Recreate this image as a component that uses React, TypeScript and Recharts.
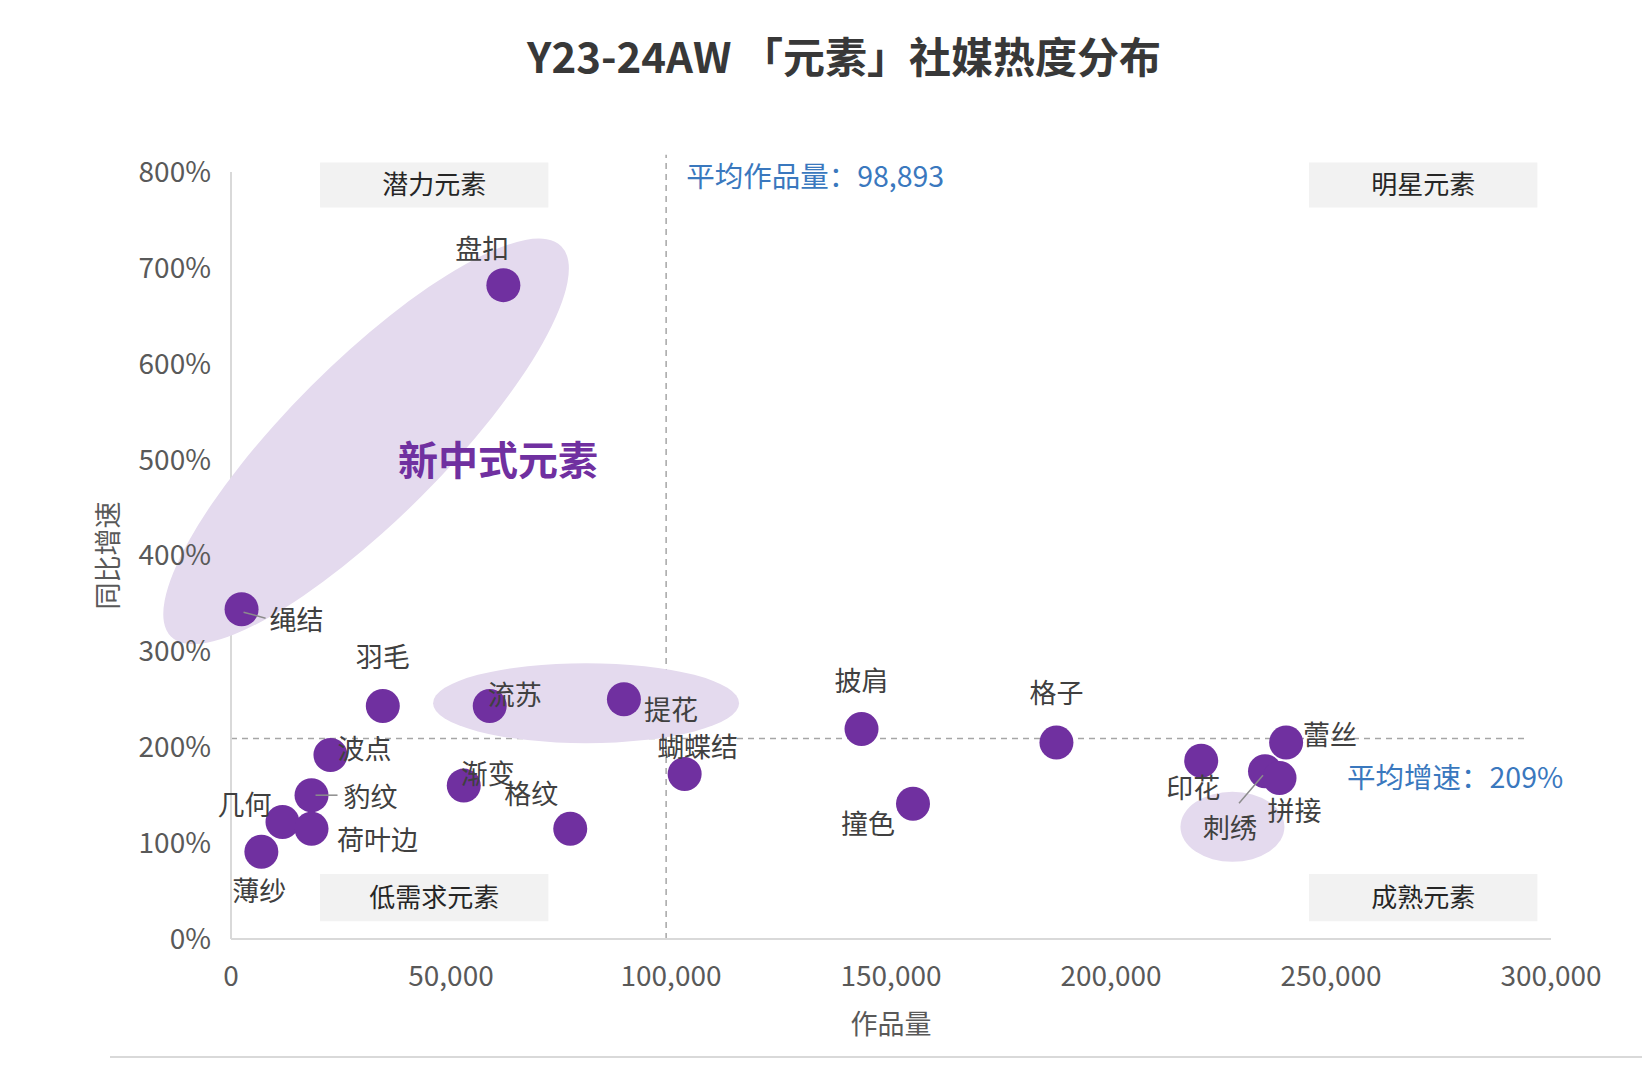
import { ScatterChart, Scatter, XAxis, YAxis, ReferenceLine, ReferenceArea, ReferenceDot, Label } from 'recharts';

// 元素 / 作品量 / 同比增速(%)
const elements = ['盘扣', '绳结', '羽毛', '流苏', '提花', '波点', '蝴蝶结', '渐变', '格纹', '豹纹', '几何', '荷叶边', '薄纱', '披肩', '格子', '撞色', '印花', '刺绣', '蕾丝', '拼接'];
const works = [61900, 2400, 34500, 58800, 89300, 22600, 103100, 52900, 77100, 18300, 11700, 18300, 6900, 143300, 187600, 155000, 220500, 235000, 239800, 238300];
const growth = [682, 344, 243, 243, 250, 192, 172, 160, 115, 150, 122, 115, 91, 219, 205, 141, 186, 175, 205, 168];

const xTicks = [0, 50000, 100000, 150000, 200000, 250000, 300000];
const yTicks = [0, 100, 200, 300, 400, 500, 600, 700, 800];

const avgWorks = 98893;
const avgGrowth = 209;

const PURPLE = '#7030A0';
const HALO = '#E4DAEE';
const AXIS_TEXT = '#595959';
const BLUE = '#3A78BE';
const FONT = '"Noto Sans CJK SC", "Noto Sans", sans-serif';

const points = elements.map((name, i) => ({ name, works: works[i], growth: growth[i] }));

// label offset from the dot centre, plus an optional leader line
type Place = { dx: number; dy: number; anchor?: 'start' | 'middle' | 'end'; leader?: [number, number, number, number] };
const placement: Record<string, Place> = {
  盘扣: { dx: -21, dy: -38 },
  绳结: { dx: 28, dy: 9, anchor: 'start', leader: [2, 3, 24, 9] },
  羽毛: { dx: 0, dy: -51 },
  流苏: { dx: 25, dy: -13 },
  提花: { dx: 47, dy: 9 },
  波点: { dx: 34, dy: -7 },
  蝴蝶结: { dx: 13, dy: -29 },
  渐变: { dx: 24, dy: -13 },
  格纹: { dx: -39, dy: -36 },
  豹纹: { dx: 32, dy: 0, anchor: 'start', leader: [4, 0, 26, 0] },
  几何: { dx: -38, dy: -19 },
  荷叶边: { dx: 66, dy: 10 },
  薄纱: { dx: -2, dy: 38 },
  披肩: { dx: 0, dy: -50 },
  格子: { dx: 0, dy: -51 },
  撞色: { dx: -45, dy: 19 },
  印花: { dx: -8, dy: 26 },
  刺绣: { dx: -35, dy: 55, leader: [-2, 4, -26, 32] },
  蕾丝: { dx: 44, dy: -9 },
  拼接: { dx: 15, dy: 32 },
};

// highlight ellipses (centre in data units, radii in px)
const halos = [
  { x: 30700, y: 519, rx: 276, ry: 78, angle: -45 },
  { x: 80700, y: 246, rx: 153, ry: 40, angle: 0 },
  { x: 227600, y: 117, rx: 52, ry: 35, angle: 0 },
];

// quadrant tags
const quadrants = [
  { x1: 20240, x2: 72140, y1: 763, y2: 810, text: '潜力元素' },
  { x1: 245000, x2: 296900, y1: 763, y2: 810, text: '明星元素' },
  { x1: 20240, x2: 72140, y1: 18.6, y2: 67.7, text: '低需求元素' },
  { x1: 245000, x2: 296900, y1: 18.6, y2: 67.7, text: '成熟元素' },
];

function Dot(props: any) {
  return <circle cx={props.cx} cy={props.cy} r={17} fill={PURPLE} />;
}

function Tag(props: any) {
  const { cx, cy, payload } = props;
  const p = placement[payload.name];
  return (
    <g>
      {p.leader && (
        <line x1={cx + p.leader[0]} y1={cy + p.leader[1]} x2={cx + p.leader[2]} y2={cy + p.leader[3]} stroke="#8c8c8c" strokeWidth={1.5} />
      )}
      <text x={cx + p.dx} y={cy + p.dy} textAnchor={p.anchor ?? 'middle'} dominantBaseline="central" fontSize={27} fill="#404040" fontFamily={FONT}>
        {payload.name}
      </text>
    </g>
  );
}

export default function App() {
  return (
    <div style={{ position: 'absolute', left: 0, top: 0, width: 1642, height: 1080, background: '#fff', fontFamily: FONT }}>
      <div style={{ position: 'absolute', top: 33, left: 0, width: 1688, textAlign: 'center', fontSize: 42, lineHeight: '44px', fontWeight: 700, color: '#383838' }}>
        Y23-24AW 「元素」社媒热度分布
      </div>
      <ScatterChart width={1642} height={1080} margin={{ top: 172, right: 91, bottom: 81, left: 131 }}>
        <XAxis
          type="number"
          dataKey="works"
          domain={[0, 300000]}
          ticks={xTicks}
          tickFormatter={(v: number) => v.toLocaleString('en-US')}
          axisLine={{ stroke: '#d9d9d9', strokeWidth: 2 }}
          tickLine={false}
          tick={{ fill: AXIS_TEXT, fontSize: 28 }}
          tickMargin={21}
          height={60}
        >
          <Label value="作品量" position="bottom" offset={16} fill={AXIS_TEXT} fontSize={27} />
        </XAxis>
        <YAxis
          type="number"
          dataKey="growth"
          domain={[0, 800]}
          ticks={yTicks}
          tickFormatter={(v: number) => `${v}%`}
          axisLine={{ stroke: '#d9d9d9', strokeWidth: 2 }}
          tickLine={false}
          tick={{ fill: AXIS_TEXT, fontSize: 28 }}
          tickMargin={14}
          width={100}
        >
          <Label value="同比增速" angle={-90} position="insideLeft" offset={-23} fill={AXIS_TEXT} fontSize={27} style={{ textAnchor: 'middle' }} />
        </YAxis>

        {quadrants.map(q => (
          <ReferenceArea
            key={q.text}
            x1={q.x1}
            x2={q.x2}
            y1={q.y1}
            y2={q.y2}
            ifOverflow="visible"
            fill="#F2F2F2"
            fillOpacity={1}
            stroke="none"
            label={{ value: q.text, position: 'center', fill: '#262626', fontSize: 26 }}
          />
        ))}

        {halos.map((h, i) => (
          <ReferenceDot
            key={i}
            x={h.x}
            y={h.y}
            ifOverflow="visible"
            shape={(p: any) => (
              <ellipse cx={p.cx} cy={p.cy} rx={h.rx} ry={h.ry} fill={HALO} transform={`rotate(${h.angle} ${p.cx} ${p.cy})`} />
            )}
          />
        ))}
        <ReferenceDot
          x={60700}
          y={502}
          ifOverflow="visible"
          shape={(p: any) => (
            <text x={p.cx} y={p.cy} textAnchor="middle" dominantBaseline="central" fontSize={40} fontWeight={700} fill={PURPLE} fontFamily={FONT}>
              新中式元素
            </text>
          )}
        />

        <ReferenceLine
          segment={[{ x: avgWorks, y: 0 }, { x: avgWorks, y: 818 }]}
          ifOverflow="visible"
          stroke="#a6a6a6"
          strokeWidth={1.5}
          strokeDasharray="6 5"
          label={(p: any) => (
            <text x={p.viewBox.x + 20} y={p.viewBox.y + 20} dominantBaseline="central" fontSize={28.5} fill={BLUE} fontFamily={FONT}>
              平均作品量：{avgWorks.toLocaleString('en-US')}
            </text>
          )}
        />
        <ReferenceLine
          segment={[{ x: 0, y: avgGrowth }, { x: 295000, y: avgGrowth }]}
          stroke="#a6a6a6"
          strokeWidth={1.5}
          strokeDasharray="6 5"
          label={(p: any) => (
            <text x={1347} y={p.viewBox.y + 37} dominantBaseline="central" fontSize={28.5} fill={BLUE} fontFamily={FONT}>
              平均增速：{avgGrowth}%
            </text>
          )}
        />

        <Scatter data={points} shape={Dot} isAnimationActive={false} />
        <Scatter data={points} shape={Tag} isAnimationActive={false} />
      </ScatterChart>
      <div style={{ position: 'absolute', top: 1056, left: 110, width: 1532, height: 2, background: '#d9d9d9' }} />
    </div>
  );
}
